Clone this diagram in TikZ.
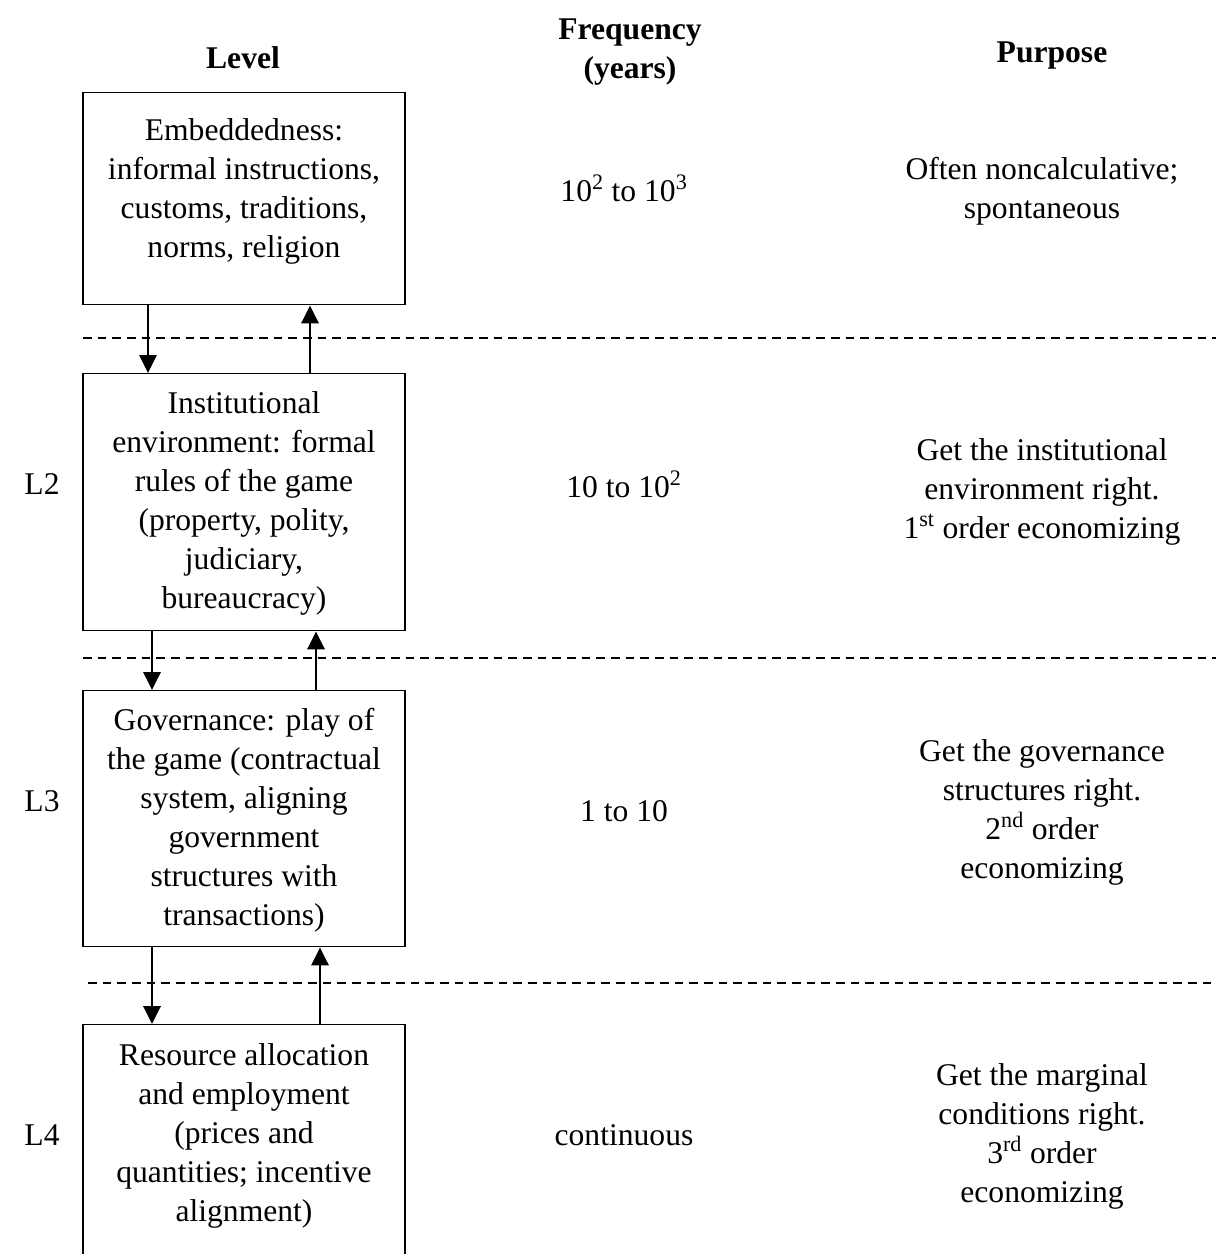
\documentclass[tikz,border=0pt]{standalone}
\usepackage{fontspec}
\setmainfont{Liberation Serif}
\usetikzlibrary{arrows.meta}

\begin{document}
\begin{tikzpicture}[x=0.75pt,y=0.75pt,yscale=-1,xscale=1,
  lvbox/.style={draw,line width=1.1pt,minimum width=241.5pt,anchor=north,inner sep=0pt},
  txt/.style={inner sep=0.75pt,align=center,font=\fontsize{23.7}{29.25}\selectfont},
  hdr/.style={inner sep=0.75pt,align=center,font=\fontsize{23.7}{29.25}\selectfont\bfseries},
  arr/.style={line width=1.8pt,-{Triangle[length=13.5pt,width=13pt]}},
  sep/.style={line width=1.3pt,dash pattern=on 6.5pt off 4.5pt}]
\useasboundingbox (0,0) rectangle (1216,1254);
\clip (0,0) rectangle (1216,1254);

\draw (243,58) node [hdr] (hlevel) {Level};
\draw (630,52) node [hdr] (hfreq) {Frequency\\(years)};
\draw (1052,56) node [hdr] (hpurp) {Purpose};

\node [lvbox,minimum height=159pt] (emb) at (244,92) {};
\node [lvbox,minimum height=192.75pt] (inst) at (244,373) {};
\node [lvbox,minimum height=192pt] (gov) at (244,690) {};
\node [lvbox,minimum height=190pt] (res) at (244,1024) {};

\draw (244,191) node [txt] (embtxt) {Embeddedness:\\informal instructions,\\customs, traditions,\\norms, religion};
\draw (244,503) node [txt] (insttxt) {Institutional\\environment: formal\\rules of the game\\(property, polity,\\judiciary,\\bureaucracy)};
\draw (244,820) node [txt] (govtxt) {Governance: play of\\the game (contractual\\system, aligning\\government\\structures with\\transactions)};
\draw (244,1136) node [txt] (restxt) {Resource allocation\\and employment\\(prices and\\quantities; incentive\\alignment)};

\draw (42,484) node [txt] (l2) {L2};
\draw (42,801) node [txt] (l3) {L3};
\draw (42,1135) node [txt] (l4) {L4};

\draw (624,188) node [txt] (f1) {10\textsuperscript{2} to 10\textsuperscript{3}};
\draw (624,484) node [txt] (f2) {10 to 10\textsuperscript{2}};
\draw (624,811) node [txt] (f3) {1 to 10};
\draw (624,1135) node [txt] (f4) {continuous};

\draw (1042,191) node [txt] (p1) {Often noncalculative;\\spontaneous};
\draw (1042,492) node [txt] (p2) {Get the institutional\\environment right.\\1\textsuperscript{st} order economizing};
\draw (1042,812) node [txt] (p3) {Get the governance\\structures right.\\2\textsuperscript{nd} order\\economizing};
\draw (1042,1136) node [txt] (p4) {Get the marginal\\conditions right.\\3\textsuperscript{rd} order\\economizing};

\draw [sep] (83,338) -- (1216,338);
\draw [sep] (83,658) -- (1216,658);
\draw [sep] (88,983) -- (1216,983);

\coordinate (d1) at (148,0);
\coordinate (u1) at (310,0);
\coordinate (d2) at (152,0);
\coordinate (u2) at (316,0);
\coordinate (d3) at (152,0);
\coordinate (u3) at (320,0);
\draw [arr] (d1 |- emb.south) -- (d1 |- inst.north);
\draw [arr] (u1 |- inst.north) -- (u1 |- emb.south);
\draw [arr] (d2 |- inst.south) -- (d2 |- gov.north);
\draw [arr] (u2 |- gov.north) -- (u2 |- inst.south);
\draw [arr] (d3 |- gov.south) -- (d3 |- res.north);
\draw [arr] (u3 |- res.north) -- (u3 |- gov.south);
\end{tikzpicture}
\end{document}
